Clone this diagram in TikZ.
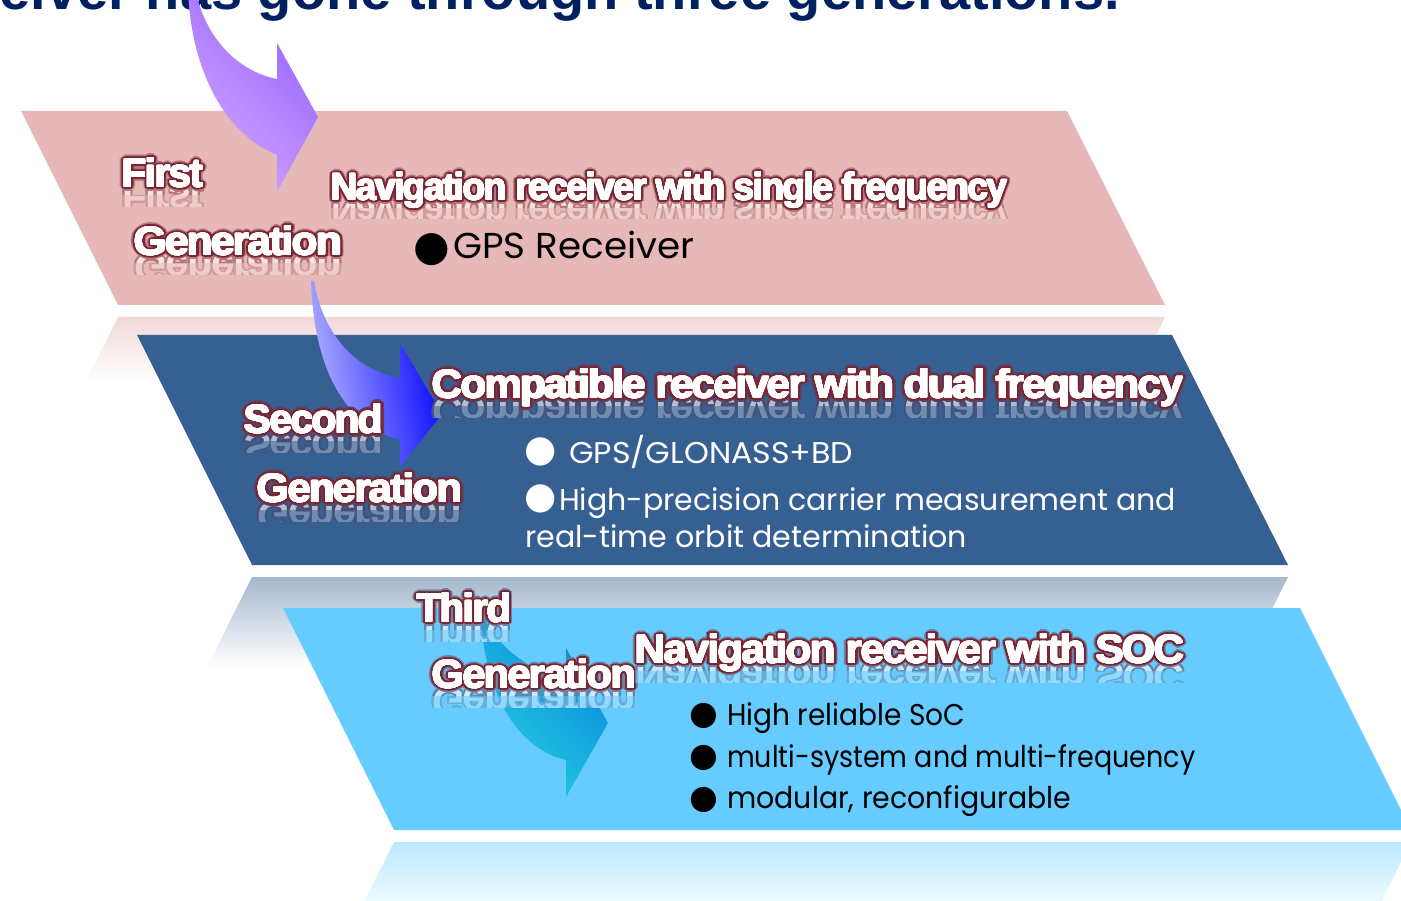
\documentclass[tikz,border=0pt]{standalone}
\usepackage{fontspec}
\setmainfont{Liberation Sans}
\newfontfamily\headfont{Liberation Sans}
\newfontfamily\glowfont[LetterSpace=-4]{Liberation Sans}
\newfontfamily\bodyfont{Poppins}
\newfontfamily\symfont{DejaVu Sans}
\usepackage{graphicx}
\usepackage{contour}
\contourlength{2.2pt}
\contournumber{16}
\definecolor{pinkband}{HTML}{E6B8B7}
\definecolor{darkband}{HTML}{366092}
\definecolor{lightband}{HTML}{66CCFF}
\definecolor{titlenavy}{HTML}{002060}
\definecolor{glowred}{HTML}{7B2533}
\colorlet{pinkrefl}{pinkband!55!white}
\colorlet{darkrefl}{darkband!45!white}
\colorlet{lightrefl}{lightband!45!white}
\definecolor{arrowAa}{HTML}{D2A6FF}
\definecolor{arrowAb}{HTML}{9563FF}
\definecolor{arrowBa}{HTML}{B8B8FF}
\definecolor{arrowBb}{HTML}{0000FF}
\definecolor{arrowCa}{HTML}{25CDDD}
\definecolor{arrowCb}{HTML}{0A88E0}
\newcommand\fitw[3]{\resizebox{#1pt}{\height}{\fontsize{#2pt}{#2pt}\selectfont #3}}
% #1 name, #2 x, #3 baseline y, #4 width, #5 size, #6 background colour, #7 text
\newcommand\glowtext[7]{%
  \begin{scope}
    \clip (#2-8,#3) rectangle (#2+#4+8,#3+0.22*#5);
    \begin{scope}[shift={(#2,#3)}]
      \node[glowtxt, yscale=-1, transform shape, text=white!60!#6] (#1-ra) at (0,0)
        {\fitw{#4}{#5}{\contourlength{1.8pt}\contour{glowred!45!#6}{#7}}};
    \end{scope}
  \end{scope}
  \begin{scope}
    \clip (#2-8,#3+0.22*#5) rectangle (#2+#4+8,#3+0.48*#5);
    \begin{scope}[shift={(#2,#3)}]
      \node[glowtxt, yscale=-1, transform shape, text=white!28!#6] (#1-rb) at (0,0)
        {\fitw{#4}{#5}{\contourlength{1.8pt}\contour{glowred!20!#6}{#7}}};
    \end{scope}
  \end{scope}
  \node[glowtxt, text=glowred!45!#6] (#1-halo) at (#2,#3)
    {\fitw{#4}{#5}{\contourlength{4.2pt}\contour{glowred!45!#6}{#7}}};
  \node[glowtxt, text=glowred] (#1-rim) at (#2,#3)
    {\fitw{#4}{#5}{\contourlength{2.8pt}\contour{glowred}{#7}}};
  \node[glowtxt, text=white] (#1) at (#2,#3)
    {\fitw{#4}{#5}{\contourlength{0.6pt}\contour{white}{#7}}};
}
\tikzset{
  glowtxt/.style={anchor=base west, inner sep=0pt, text=white, font=\glowfont\bfseries},
  bodytxt/.style={anchor=base west, inner sep=0pt, font=\bodyfont},
  bulletmark/.style={inner sep=0pt, anchor=center},
}
\begin{document}
\begin{tikzpicture}[x=1pt,y=-1pt]
\useasboundingbox (0,0) rectangle (1401,901);
\fill[white] (0,0) rectangle (1401,901);
% reflections of the bands
\shade[top color=pinkrefl, bottom color=white] (118,317) -- (1165,317) -- (1132,383) -- (85,383) -- cycle;
\shade[top color=darkrefl, bottom color=white] (252,577) -- (1288,577) -- (1243,667) -- (207,667) -- cycle;
\shade[top color=lightrefl, bottom color=white] (394,842) -- (1411,842) -- (1371,922) -- (354,922) -- cycle;
% bands
\fill[pinkband] (21,111) -- (1067,111) -- (1165,305) -- (118,305) -- cycle;
\fill[darkband] (137,335) -- (1172,335) -- (1288,565) -- (252,565) -- cycle;
\fill[lightband] (283,608) -- (1300,608) -- (1411,830) -- (394,830) -- cycle;
% title (cut off at top)
\node[anchor=base east, inner sep=0pt, text=titlenavy, font=\headfont\bfseries\fontsize{56pt}{56pt}\selectfont] (title) at (1120,10) {receiver has gone through three generations.};
% curved arrows
\shade[left color=arrowAa, right color=arrowAb, shading angle=135]
  (188,-12) .. controls (190,62) and (220,132) .. (277,155) -- (277,192) -- (318,117) -- (277,43) -- (277,79)
  .. controls (240,72) and (205,40) .. (195,-12) -- cycle;
\shade[left color=arrowBa, right color=arrowBb, shading angle=100]
  (311,281) .. controls (314,370) and (345,425) .. (400,440) -- (400,467) -- (442,414) -- (400,343) -- (400,378)
  .. controls (352,370) and (322,330) .. (314,281) -- cycle;
\shade[left color=arrowCa, right color=arrowCb, shading angle=135]
  (481,616) .. controls (484,690) and (515,748) .. (566,760) -- (566,797) -- (608,723) -- (566,648) -- (566,684)
  .. controls (528,668) and (494,645) .. (484,616) -- cycle;
% generation labels
\glowtext{first}{122}{187}{81}{40}{pinkband}{First}
\glowtext{gen1}{134}{255}{208}{40}{pinkband}{Generation}
\glowtext{second}{244}{433}{139}{40}{darkband}{Second}
\glowtext{gen2}{257}{502}{205}{40}{darkband}{Generation}
\glowtext{third}{417}{622}{94}{40}{lightband}{Third}
\glowtext{gen3}{432}{688}{204}{40}{lightband}{Generation}
% headings
\glowtext{head1}{331}{200}{676}{38}{pinkband}{Navigation receiver with single frequency}
\glowtext{head2}{432}{398}{751}{40}{darkband}{Compatible receiver with dual frequency}
\glowtext{head3}{635}{663}{549}{40}{lightband}{Navigation receiver with SOC}
% first generation body
\node[bulletmark, text=black, font=\symfont\fontsize{42pt}{42pt}\selectfont] (b1) at (432,250) {●};
\node[bodytxt, text=black] (t1) at (453,259) {\fitw{241}{36}{GPS Receiver}};
% second generation body
\node[bulletmark, text=white, font=\symfont\fontsize{37pt}{37pt}\selectfont] (b2) at (541,452) {●};
\node[bulletmark, text=white, font=\symfont\fontsize{37pt}{37pt}\selectfont] (b3) at (541,499) {●};
\node[bodytxt, text=white] (t2) at (569,463) {\fitw{284}{30}{GPS/GLONASS+BD}};
\node[bodytxt, text=white] (t3) at (559,510) {\fitw{617}{30}{High-precision carrier measurement and}};
\node[bodytxt, text=white] (t4) at (525,547) {\fitw{442}{30}{real-time orbit determination}};
% third generation body
\node[bulletmark, text=black, font=\symfont\fontsize{33pt}{33pt}\selectfont] (b4) at (704,716) {●};
\node[bulletmark, text=black, font=\symfont\fontsize{33pt}{33pt}\selectfont] (b5) at (704,758) {●};
\node[bulletmark, text=black, font=\symfont\fontsize{33pt}{33pt}\selectfont] (b6) at (704,800) {●};
\node[bodytxt, text=black] (t5) at (727,725) {\fitw{238}{30}{High reliable SoC}};
\node[bodytxt, text=black] (t6) at (727,767) {\fitw{468}{30}{multi-system and multi-frequency}};
\node[bodytxt, text=black] (t7) at (727,808) {\fitw{344}{30}{modular, reconfigurable}};
\end{tikzpicture}
\end{document}
